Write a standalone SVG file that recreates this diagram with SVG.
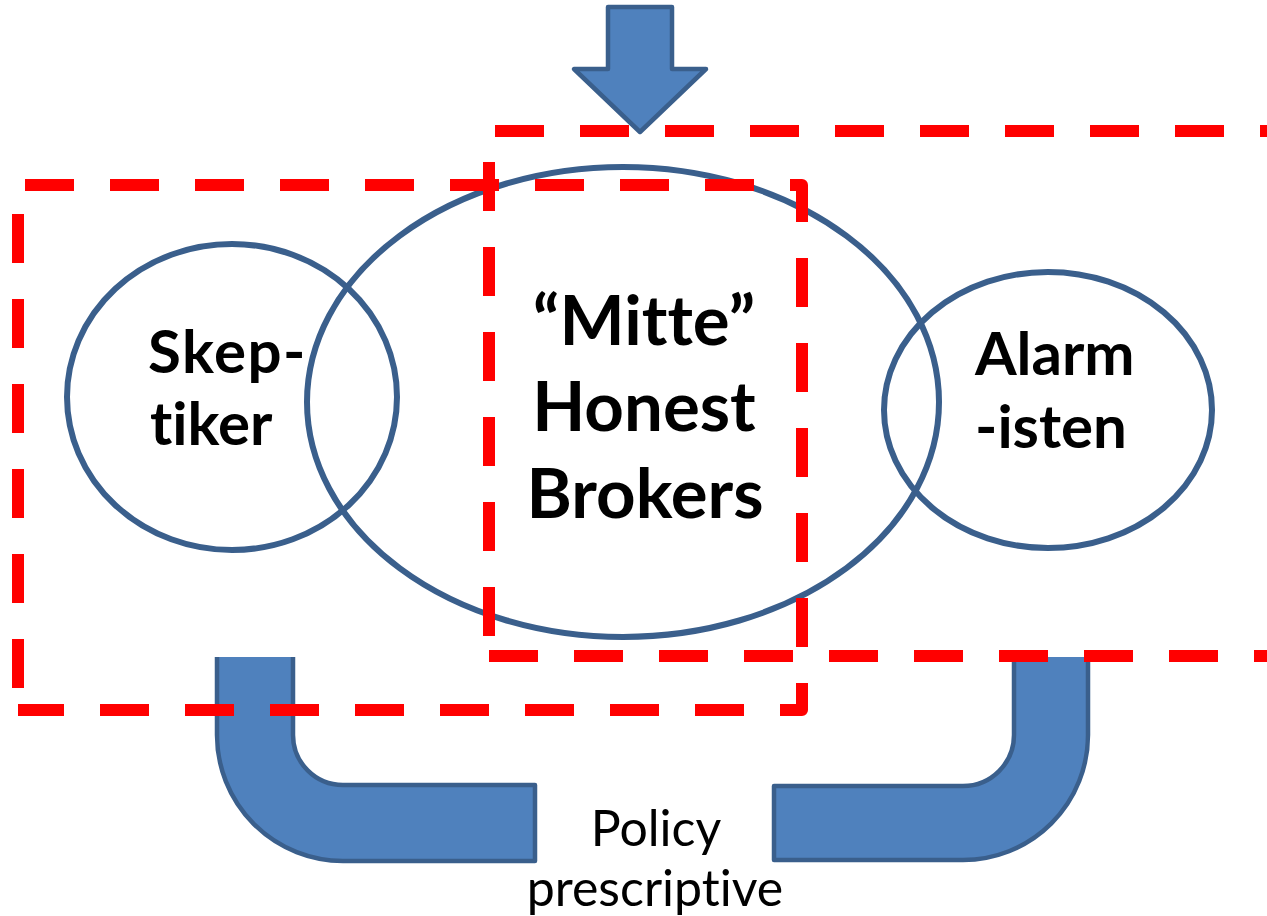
<svg xmlns="http://www.w3.org/2000/svg" width="1267" height="916" viewBox="0 0 1267 916">
  <style>
    .ring { fill: none; stroke: #3A5F8C; stroke-width: 6; }
    .big { font-family: Lato, "Liberation Sans", sans-serif; font-weight: bold; fill: #000; font-variant-ligatures: none; }
    .side { font-size: 60px; }
    .mid { font-size: 69px; text-anchor: middle; }
    .note { font-family: Lato, "Liberation Sans", sans-serif; font-size: 50px; fill: #000; text-anchor: middle; font-variant-ligatures: none; }
    .block { fill: #4F81BD; stroke: #3A5F8C; stroke-width: 4.5; stroke-linejoin: round; }
    .dash { fill: none; stroke: #FF0000; stroke-width: 12; stroke-dasharray: 49 36; stroke-linejoin: round; }
  </style>

  <!-- nodes -->
  <g id="skeptiker">
    <ellipse class="ring" cx="232" cy="397" rx="165" ry="153"/>
    <text class="big side" x="148" y="373" letter-spacing="1.5">Skep-</text>
    <text class="big side" x="150" y="445">tiker</text>
  </g>

  <g id="mitte">
    <ellipse class="ring" cx="623" cy="402" rx="316" ry="235"/>
    <text class="big mid" x="644" y="345">“Mitte”</text>
    <text class="big mid" x="644" y="431">Honest</text>
    <text class="big mid" x="645" y="518">Brokers</text>
  </g>

  <g id="alarmisten">
    <ellipse class="ring" cx="1048" cy="410" rx="164" ry="138"/>
    <text class="big side" x="975" y="375">Alarm</text>
    <text class="big side" x="975" y="448">-isten</text>
  </g>

  <g id="policy-label">
    <text class="note" x="656" y="846">Policy</text>
    <text class="note" x="655" y="906">prescriptive</text>
  </g>

  <!-- connectors -->
  <g id="connectors">
    <polygon class="block" points="608,7 672,7 672,69 706,69 640,132 574,69 608,69"/>
    <path class="block" d="M217,657 V735 A126,126 0 0 0 343,861 H535 V785 H343 A50,50 0 0 1 293,735 V657"/>
    <path class="block" d="M1088,657 V735 A125,125 0 0 1 963,860 H774 V786 H963 A51,51 0 0 0 1014,735 V657"/>
  </g>

  <!-- dashed groupings -->
  <g id="frames">
    <path class="dash" d="M18,185 H802 V710 H18" stroke-dashoffset="78"/>
    <path class="dash" d="M18,710 V185" stroke-dashoffset="63"/>
    <path class="dash" d="M489,131 H1300" stroke-dashoffset="79"/>
    <path class="dash" d="M489,656 H1300"/>
    <path class="dash" d="M489,656 V131" stroke-dashoffset="65"/>
  </g>
</svg>
